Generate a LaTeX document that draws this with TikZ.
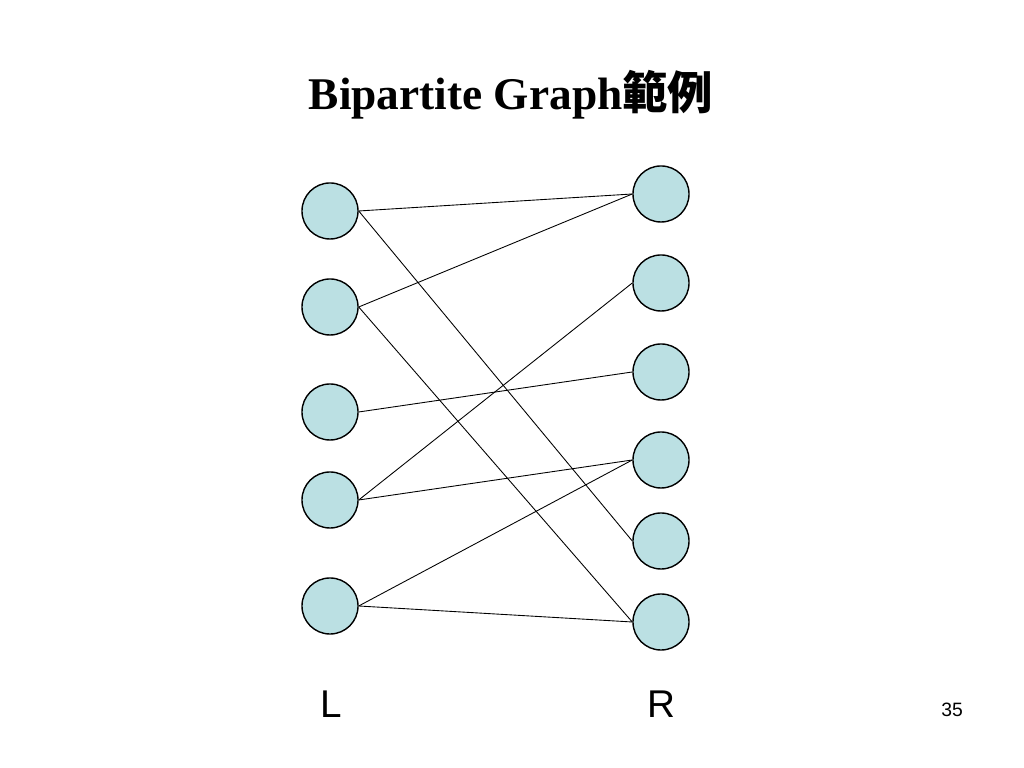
\documentclass[tikz,border=0pt]{standalone}
\usepackage{fontspec}
\setmainfont{Liberation Serif}
\setsansfont{Liberation Sans}
\newfontfamily\cjk{Noto Sans CJK TC}
\usepackage{tikz}

\definecolor{vtxfill}{RGB}{187,224,227}

\begin{document}
\begin{tikzpicture}[x=0.01cm,y=-0.01cm,
  vtx/.style={circle,draw=black,fill=vtxfill,minimum size=0.56cm,inner sep=0pt},
  edge/.style={draw=black,line width=0.25pt}]
\useasboundingbox (0,0) rectangle (1024,768);
\node[anchor=base,font=\fontsize{12.9}{15}\selectfont\bfseries] (title) at (511,110) {Bipartite Graph{\cjk 範例}};
% left side
\node[vtx] (l1) at (330,211) {};
\node[vtx] (l2) at (330,307) {};
\node[vtx] (l3) at (330,412) {};
\node[vtx] (l4) at (330,500) {};
\node[vtx] (l5) at (330,606) {};
% right side
\node[vtx] (r1) at (661,194) {};
\node[vtx] (r2) at (661,283) {};
\node[vtx] (r3) at (661,372) {};
\node[vtx] (r4) at (661,460) {};
\node[vtx] (r5) at (661,541) {};
\node[vtx] (r6) at (661,622) {};
% edges
\draw[edge] (l1.east)--(r1.west);
\draw[edge] (l1.east)--(r5.west);
\draw[edge] (l2.east)--(r1.west);
\draw[edge] (l2.east)--(r6.west);
\draw[edge] (l3.east)--(r3.west);
\draw[edge] (l4.east)--(r2.west);
\draw[edge] (l4.east)--(r4.west);
\draw[edge] (l5.east)--(r4.west);
\draw[edge] (l5.east)--(r6.west);
\node[anchor=base,font=\sffamily\fontsize{11}{13}\selectfont] (lab) at (331,718) {L};
\node[anchor=base,font=\sffamily\fontsize{11}{13}\selectfont] (rab) at (661,718) {R};
\node[anchor=base,font=\sffamily\fontsize{5.5}{7}\selectfont] (page) at (952,717) {35};
\end{tikzpicture}
\end{document}
